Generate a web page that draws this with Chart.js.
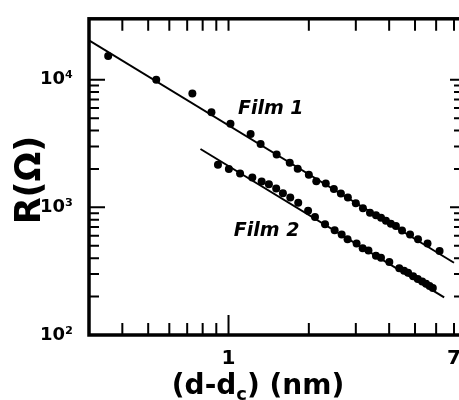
<!DOCTYPE html>
<html>
<head>
<meta charset="utf-8">
<script src="https://cdn.jsdelivr.net/npm/chart.js@4.4.0/dist/chart.umd.min.js"></script>
<style>
  html, body { margin: 0; padding: 0; background: #fff; overflow: hidden; }
  #wrap { width: 459px; height: 400px; overflow: hidden; position: relative; }
  canvas { display: block; }
</style>
</head>
<body>
<div id="wrap"><canvas id="myChart" width="468" height="400"></canvas></div>
<script>
// measured points, (d-dc) in nm and R in ohm
const film1X = [0.354, 0.536, 0.732, 0.863, 1.017, 1.21, 1.319, 1.515, 1.696, 1.817, 2.0, 2.133, 2.315, 2.482, 2.637, 2.801, 3.0, 3.19, 3.39, 3.57, 3.73, 3.89, 4.06, 4.24, 4.47, 4.79, 5.13, 5.57, 6.18];
const film1R = [15350, 10000, 7780, 5550, 4520, 3750, 3130, 2600, 2235, 2005, 1803, 1604, 1535, 1390, 1285, 1197, 1075, 982, 906, 867, 829, 785, 745, 713, 658, 614, 562, 520, 456];
const film2X = [0.913, 1.003, 1.105, 1.228, 1.331, 1.417, 1.509, 1.599, 1.704, 1.825, 1.987, 2.109, 2.3, 2.499, 2.655, 2.794, 3.02, 3.183, 3.346, 3.569, 3.728, 4.006, 4.365, 4.55, 4.71, 4.92, 5.12, 5.32, 5.5, 5.67, 5.83];
const film2R = [2155, 2000, 1845, 1710, 1592, 1517, 1403, 1291, 1197, 1089, 942, 839, 738, 661, 614, 562, 521, 479, 460, 417, 402, 373, 333, 319, 308, 289, 275, 262, 252, 242, 233];
// fitted straight lines
const fit1X = [0.3, 7.0];
const fit1R = [20300, 368];
const fit2X = [0.785, 6.43];
const fit2R = [2865, 197];
// axes
const xTicks = [0.4, 0.5, 0.6, 0.7, 0.8, 0.9, 1, 2, 3, 4, 5, 6, 7];
const xLabeled = [1, 7];
const yTicks = [100, 200, 300, 400, 500, 600, 700, 800, 900, 1000, 2000, 3000, 4000, 5000, 6000, 7000, 8000, 9000, 10000];
const yLabels = { 100: "10²", 1000: "10³", 10000: "10⁴" };

const toPts = (xs, ys) => xs.map((x, i) => ({ x: x, y: ys[i] }));
const FONT = '"DejaVu Sans", sans-serif';

const framePlugin = {
  id: "frame",
  afterDraw(chart) {
    const ctx = chart.ctx;
    const a = chart.chartArea;
    const xs = chart.scales.x;
    const ys = chart.scales.y;
    ctx.save();
    ctx.strokeStyle = "#000";
    ctx.fillStyle = "#000";
    ctx.lineWidth = 3.5;
    ctx.strokeRect(a.left, a.top, a.right - a.left, a.bottom - a.top);

    ctx.lineWidth = 2;
    ctx.beginPath();
    xTicks.forEach((v) => {
      const px = xs.getPixelForValue(v);
      const len = v === 1 ? 20 : 12;
      ctx.moveTo(px, a.bottom);
      ctx.lineTo(px, a.bottom - len);
      ctx.moveTo(px, a.top);
      ctx.lineTo(px, a.top + 12);
    });
    yTicks.forEach((v) => {
      const py = ys.getPixelForValue(v);
      const major = yLabels[v] !== undefined;
      ctx.moveTo(a.left, py);
      ctx.lineTo(a.left + (major ? 16 : 10), py);
      ctx.moveTo(a.right, py);
      ctx.lineTo(a.right - (major ? 12 : 8), py);
    });
    ctx.stroke();

    // axis titles
    ctx.save();
    ctx.translate(40, 180);
    ctx.rotate(-Math.PI / 2);
    ctx.font = "bold 35px " + FONT;
    ctx.textAlign = "center";
    ctx.textBaseline = "alphabetic";
    ctx.fillText("R(Ω)", 0, 0);
    ctx.restore();

    const big = "bold 28px " + FONT;
    const small = "bold 18px " + FONT;
    ctx.textBaseline = "alphabetic";
    ctx.textAlign = "left";
    ctx.font = big;
    const w1 = ctx.measureText("(d-d").width;
    const w3 = ctx.measureText(") (nm)").width;
    ctx.font = small;
    const w2 = ctx.measureText("c").width;
    let x0 = 258 - (w1 + w2 + w3) / 2;
    ctx.font = big;
    ctx.fillText("(d-d", x0, 394);
    ctx.font = small;
    ctx.fillText("c", x0 + w1, 400);
    ctx.font = big;
    ctx.fillText(") (nm)", x0 + w1 + w2, 394);

    // curve labels
    ctx.font = "italic bold 19px " + FONT;
    ctx.textAlign = "center";
    ctx.textBaseline = "middle";
    ctx.fillText("Film 1", xs.getPixelForValue(1.44), ys.getPixelForValue(5850));
    ctx.fillText("Film 2", xs.getPixelForValue(1.39), ys.getPixelForValue(651));
    ctx.restore();
  },
};

const ctx = document.getElementById("myChart");
new Chart(ctx, {
  type: "scatter",
  data: {
    datasets: [
      {
        label: "fit 1",
        data: toPts(fit1X, fit1R),
        showLine: true,
        borderColor: "#000",
        borderWidth: 2,
        pointRadius: 0,
      },
      {
        label: "fit 2",
        data: toPts(fit2X, fit2R),
        showLine: true,
        borderColor: "#000",
        borderWidth: 2,
        pointRadius: 0,
      },
      {
        label: "Film 1",
        data: toPts(film1X, film1R),
        pointRadius: 4,
        backgroundColor: "#000",
        borderWidth: 0,
      },
      {
        label: "Film 2",
        data: toPts(film2X, film2R),
        pointRadius: 4,
        backgroundColor: "#000",
        borderWidth: 0,
      },
    ],
  },
  options: {
    responsive: false,
    animation: false,
    events: [],
    layout: { padding: { top: 15, right: 6, left: 0, bottom: 0 } },
    plugins: {
      legend: { display: false },
      tooltip: { enabled: false },
    },
    scales: {
      x: {
        type: "logarithmic",
        min: 0.3,
        max: 7.5,
        grid: { display: false },
        border: { display: false },
        afterBuildTicks: (s) => {
          s.ticks = xTicks.map((v) => ({ value: v }));
        },
        afterFit: (s) => {
          s.height = 65;
          s.paddingLeft = 0;
          s.paddingRight = 0;
        },
        ticks: {
          autoSkip: false,
          maxRotation: 0,
          padding: 4,
          color: "#000",
          font: { family: FONT, size: 20, weight: "bold" },
          callback: (v) => (xLabeled.includes(v) ? String(v) : ""),
        },
      },
      y: {
        type: "logarithmic",
        min: 100,
        max: 30000,
        grid: { display: false },
        border: { display: false },
        afterBuildTicks: (s) => {
          s.ticks = yTicks.map((v) => ({ value: v }));
        },
        afterFit: (s) => {
          s.width = 89;
        },
        ticks: {
          autoSkip: false,
          padding: 8,
          color: "#000",
          font: { family: FONT, size: 18, weight: "bold" },
          callback: (v) => yLabels[v] || "",
        },
      },
    },
  },
  plugins: [framePlugin],
});
</script>
</body>
</html>
